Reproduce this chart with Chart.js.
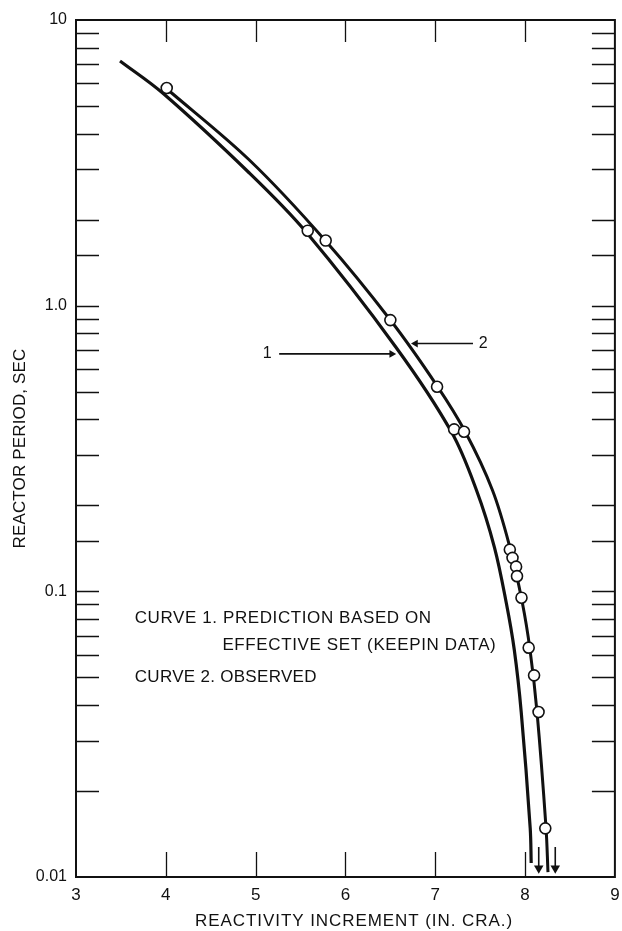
<!DOCTYPE html>
<html>
<head>
<meta charset="utf-8">
<script src="https://cdn.jsdelivr.net/npm/chart.js@4.4.1/dist/chart.umd.min.js"></script>
<style>
  html, body { margin: 0; padding: 0; background: #fff; }
  canvas { display: block; }
</style>
</head>
<body>
<canvas id="periodo" width="622" height="931"></canvas>
<script>
// curva 1: prediccion (set efectivo, datos de Keepin)
const curva1X = [3.49, 3.965, 4.93, 5.562, 6.56, 7.181, 7.458, 7.658, 7.791, 7.88, 7.957, 8.057, 8.068];
const curva1Y = [7.19, 5.55, 2.913, 1.81, 0.717, 0.361, 0.2263, 0.1429, 0.091, 0.0623, 0.0378, 0.01484, 0.0112];

// curva 2: observada
const curva2X = [4.00, 4.93, 5.78, 6.50, 7.02, 7.335, 7.636, 7.83, 7.97, 8.055, 8.133, 8.233, 8.255];
const curva2Y = [5.78, 3.236, 1.685, 0.891, 0.524, 0.361, 0.2263, 0.143, 0.091, 0.0624, 0.0378, 0.0149, 0.0104];

// puntos medidos
const puntosX = [4.01, 5.58, 5.78, 6.50, 7.02, 7.21, 7.32, 7.83, 7.86, 7.90, 7.91, 7.96, 8.04, 8.10, 8.15, 8.225];
const puntosY = [5.78, 1.83, 1.69, 0.89, 0.52, 0.369, 0.362, 0.140, 0.131, 0.122, 0.113, 0.095, 0.0635, 0.0508, 0.0378, 0.0148];

// flechas hacia abajo al final de las curvas
const flechasX = [8.152, 8.336];
const flechaDesde = 0.01274;
const flechaHasta = 0.01072;

// flechas que senalan cada curva
const flecha1X = [5.262, 6.515];
const flecha1Y = 0.678;
const flecha2X = [7.42, 6.78];
const flecha2Y = 0.737;

// ejes
const xMin = 3, xMax = 9;
const yMin = 0.01, yMax = 10;
const yMarcas = [0.01, 0.1, 1, 10];
const yEtiquetas = ['0.01', '0.1', '1.0', '10'];

const fuente = "'Liberation Sans', Arial, sans-serif";
Chart.defaults.font.family = fuente;
Chart.defaults.color = '#111';

const pares = (xs, ys) => xs.map((v, i) => ({ x: v, y: ys[i] }));

function rotulo(ctx, texto, x, y, ancho, tam, vertical) {
  ctx.save();
  ctx.font = tam + 'px ' + fuente;
  ctx.letterSpacing = '0px';
  const w = ctx.measureText(texto).width;
  ctx.letterSpacing = ((ancho - w) / texto.length) + 'px';
  ctx.fillStyle = '#111';
  ctx.textAlign = 'left';
  ctx.textBaseline = 'middle';
  ctx.translate(x, y);
  if (vertical) {
    ctx.rotate(-Math.PI / 2);
    ctx.fillText(texto, -ancho / 2, 0);
  } else {
    ctx.fillText(texto, 0, 0);
  }
  ctx.restore();
}

const marco = {
  id: 'marco',
  afterDraw(chart) {
    const { ctx, chartArea: a, scales: { x, y } } = chart;
    ctx.save();
    ctx.strokeStyle = '#111';
    ctx.lineWidth = 2;
    ctx.strokeRect(a.left, a.top, a.right - a.left, a.bottom - a.top);

    // marcas hacia adentro
    ctx.lineWidth = 1.3;
    ctx.beginPath();
    y.ticks.forEach(t => {
      if (t.value <= yMin * 1.001 || t.value >= yMax * 0.999) return;
      const py = Math.round(y.getPixelForValue(t.value)) + 0.5;
      ctx.moveTo(a.left, py); ctx.lineTo(a.left + 23, py);
      ctx.moveTo(a.right, py); ctx.lineTo(a.right - 23, py);
    });
    x.ticks.forEach(t => {
      if (t.value <= xMin || t.value >= xMax) return;
      const px = Math.round(x.getPixelForValue(t.value)) + 0.5;
      ctx.moveTo(px, a.bottom); ctx.lineTo(px, a.bottom - 25);
      ctx.moveTo(px, a.top); ctx.lineTo(px, a.top + 22);
    });
    ctx.stroke();
    ctx.restore();

    // titulos de los ejes
    rotulo(ctx, 'REACTIVITY INCREMENT (IN. CRA.)', 195, 921, 318, 17, false);
    rotulo(ctx, 'REACTOR PERIOD, SEC', 20, (a.top + a.bottom) / 2, 200, 17, true);

    // leyenda
    const px = v => x.getPixelForValue(v);
    const py = v => y.getPixelForValue(v);
    rotulo(ctx, 'CURVE 1. PREDICTION BASED ON', px(3.654), py(0.0807), 297, 17, false);
    rotulo(ctx, 'EFFECTIVE SET (KEEPIN DATA)', px(4.63), py(0.0649), 274, 17, false);
    rotulo(ctx, 'CURVE 2. OBSERVED', px(3.654), py(0.0502), 182, 17, false);

    // numeros de las curvas
    ctx.save();
    ctx.font = '16px ' + fuente;
    ctx.fillStyle = '#111';
    ctx.textAlign = 'center';
    ctx.textBaseline = 'middle';
    ctx.fillText('1', px(5.129), py(flecha1Y));
    ctx.fillText('2', px(7.534), py(flecha2Y));
    ctx.restore();
  }
};

const flecha = (xs, ys, rot, r) => ({
  data: pares(xs, ys),
  showLine: true,
  borderColor: '#111',
  borderWidth: 1.6,
  pointRadius: [0, r],
  pointStyle: 'triangle',
  rotation: rot,
  pointBackgroundColor: '#111',
  pointBorderColor: '#111',
  pointBorderWidth: 0
});

new Chart(document.getElementById('periodo'), {
  type: 'scatter',
  data: {
    datasets: [
      {
        label: 'observado',
        data: pares(puntosX, puntosY),
        showLine: false,
        pointRadius: 5.5,
        pointBackgroundColor: '#fff',
        pointBorderColor: '#111',
        pointBorderWidth: 1.6
      },
      {
        label: 'curva 2',
        data: pares(curva2X, curva2Y),
        showLine: true,
        borderColor: '#111',
        borderWidth: 3,
        pointRadius: 0,
        tension: 0.35
      },
      {
        label: 'curva 1',
        data: pares(curva1X, curva1Y),
        showLine: true,
        borderColor: '#111',
        borderWidth: 3.2,
        pointRadius: 0,
        tension: 0.35
      },
      flecha([flechasX[0], flechasX[0]], [flechaDesde, flechaHasta], 180, 5.5),
      flecha([flechasX[1], flechasX[1]], [flechaDesde, flechaHasta], 180, 5.5),
      flecha(flecha1X, [flecha1Y, flecha1Y], 90, 4.5),
      flecha(flecha2X, [flecha2Y, flecha2Y], -90, 4.5)
    ]
  },
  options: {
    responsive: false,
    animation: false,
    devicePixelRatio: 1,
    layout: { padding: { top: 20, right: 5, left: 0, bottom: 0 } },
    plugins: { legend: { display: false }, tooltip: { enabled: false } },
    scales: {
      x: {
        type: 'linear',
        min: xMin,
        max: xMax,
        grid: { display: false },
        border: { display: false },
        ticks: { stepSize: 1, padding: 0, font: { size: 17 }, color: '#111' },
        afterFit: s => { s.height = 54; s.paddingLeft = 0; s.paddingRight = 0; }
      },
      y: {
        type: 'logarithmic',
        min: yMin,
        max: yMax,
        grid: { display: false },
        border: { display: false },
        ticks: {
          autoSkip: false,
          padding: 1,
          font: { size: 16 },
          color: '#111',
          callback: v => {
            const i = yMarcas.findIndex(m => Math.abs(m - v) < m * 1e-6);
            return i < 0 ? '' : yEtiquetas[i];
          }
        },
        afterFit: s => { s.width = 76; s.paddingTop = 0; s.paddingBottom = 0; }
      }
    }
  },
  plugins: [marco]
});
</script>
</body>
</html>
